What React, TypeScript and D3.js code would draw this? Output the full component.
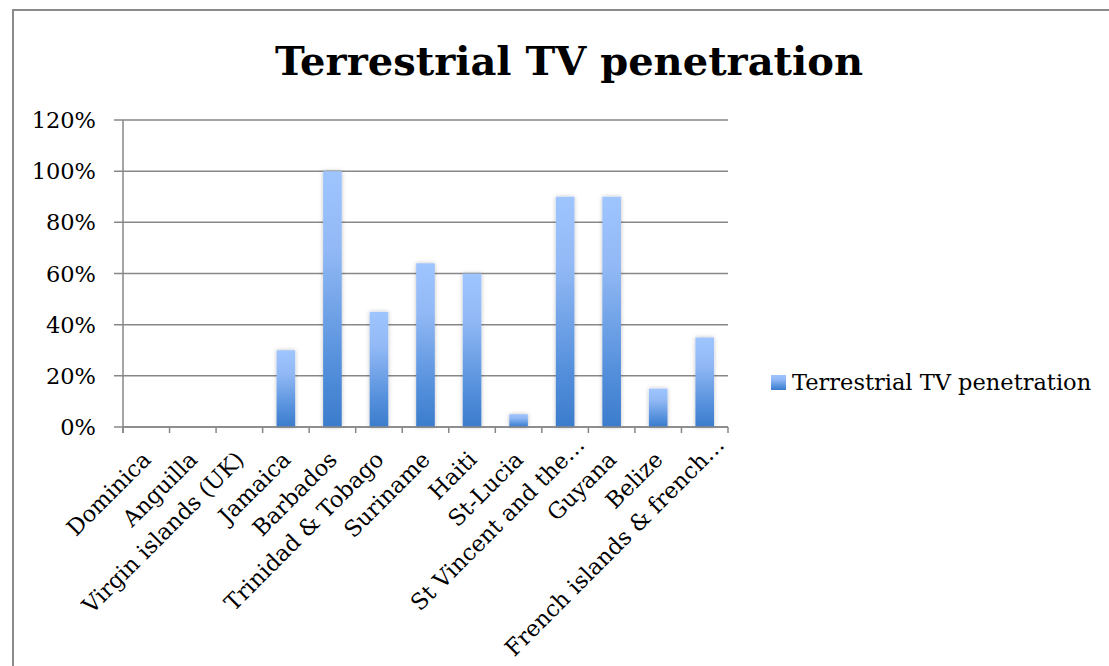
import React from "react";
import * as d3 from "d3";

const categories: string[] = [
  "Dominica",
  "Anguilla",
  "Virgin islands (UK)",
  "Jamaica",
  "Barbados",
  "Trinidad & Tobago",
  "Suriname",
  "Haiti",
  "St-Lucia",
  "St Vincent and the…",
  "Guyana",
  "Belize",
  "French islands & french…",
];
const values: number[] = [0, 0, 0, 0.3, 1.0, 0.45, 0.64, 0.6, 0.05, 0.9, 0.9, 0.15, 0.35];
const yTicks: number[] = [0, 0.2, 0.4, 0.6, 0.8, 1.0, 1.2];
const title = "Terrestrial TV penetration";
const seriesName = "Terrestrial TV penetration";

const W = 1109;
const H = 666;
const FONT = "'DejaVu Serif', serif";

export default function App() {
  const x = d3
    .scaleBand<string>()
    .domain(categories)
    .range([123, 728])
    .paddingInner(0.6)
    .paddingOuter(0.3);
  const y = d3.scaleLinear().domain([0, 1.2]).range([427, 120]);
  const step = x.step();
  const x0 = 123;
  const boundaries = d3.range(categories.length + 1).map((i) => x0 + i * step);
  const fmt = d3.format(".0%");
  const gridColor = "#878787";

  return (
    <svg
      width={W}
      height={H}
      style={{ position: "absolute", left: 0, top: 0, background: "#fff" }}
      fontFamily={FONT}
    >
      <defs>
        <linearGradient id="barGrad" x1="0" y1="0" x2="0" y2="1">
          <stop offset="0" stopColor="#9fc5ff" />
          <stop offset="0.3" stopColor="#92b9f5" />
          <stop offset="0.75" stopColor="#5590dc" />
          <stop offset="1" stopColor="#3b7ccc" />
        </linearGradient>
        <filter id="shadow" x="-50%" y="-20%" width="200%" height="140%">
          <feDropShadow dx="0" dy="0" stdDeviation="2" floodColor="#000" floodOpacity="0.25" />
        </filter>
      </defs>
      <rect x={0} y={0} width={W} height={H} fill="#fff" />
      {/* outer chart border */}
      <rect x={13} y={10} width={1200} height={800} fill="none" stroke="#8a8a8a" strokeWidth={2} />

      {/* title */}
      <text x={569} y={75} textAnchor="middle" fontSize={40} fontWeight="bold" fill="#000">
        {title}
      </text>

      {/* gridlines + y ticks */}
      {yTicks.map((t) => (
        <g key={t}>
          <line x1={114} x2={728} y1={y(t)} y2={y(t)} stroke={gridColor} strokeWidth={1.5} />
          <text
            x={96}
            y={y(t)}
            dy="0.36em"
            textAnchor="end"
            fontSize={22.5}
            fill="#000"
          >
            {fmt(t)}
          </text>
        </g>
      ))}

      {/* y axis line */}
      <line x1={123} x2={123} y1={y(1.2)} y2={433} stroke={gridColor} strokeWidth={1.5} />
      {/* category ticks */}
      {boundaries.map((bx, i) => (
        <line key={i} x1={bx} x2={bx} y1={y(0)} y2={433} stroke={gridColor} strokeWidth={1.5} />
      ))}

      {/* bars */}
      {categories.map((c, i) =>
        values[i] > 0 ? (
          <rect
            key={c}
            x={x(c)}
            y={y(values[i])}
            width={x.bandwidth()}
            height={y(0) - y(values[i])}
            fill="url(#barGrad)"
            filter="url(#shadow)"
          />
        ) : null
      )}
      <line x1={123} x2={728} y1={y(0)} y2={y(0)} stroke={gridColor} strokeWidth={1.5} />

      {/* x labels */}
      {categories.map((c) => {
        const cx = (x(c) as number) + x.bandwidth() / 2;
        const s = c.endsWith("…") ? 21 : 0;
        const ax = cx + 6 + s * 0.7071;
        const ay = 461 - s * 0.7071;
        return (
          <text
            key={c}
            transform={`translate(${ax},${ay}) rotate(-45)`}
            textAnchor="end"
            fontSize={22.5}
            fill="#000"
          >
            {c}
          </text>
        );
      })}

      {/* legend */}
      <rect x={771} y={375} width={15} height={15} fill="url(#barGrad)" />
      <text x={792} y={390} fontSize={22.5} fill="#000">
        {seriesName}
      </text>
    </svg>
  );
}
